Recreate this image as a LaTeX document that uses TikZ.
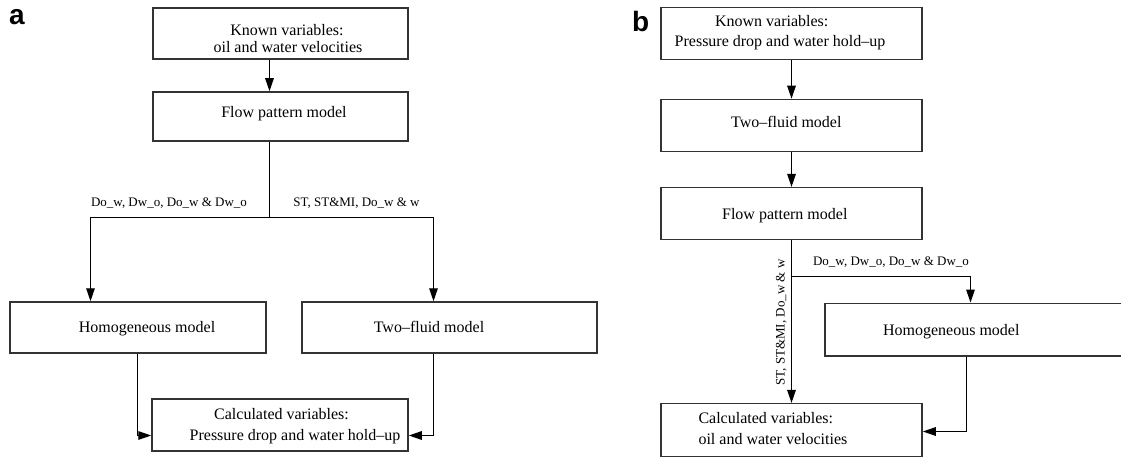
\documentclass[tikz,border=0pt]{standalone}
\usepackage{fontspec}
\setmainfont{Liberation Serif}
\newfontfamily\panelfont{Liberation Sans}
\usetikzlibrary{arrows.meta}
\tikzset{
  box/.style={draw=black!80, line width=1.5pt, inner sep=0pt, fill=none},
  txt/.style={font=\fontsize{16}{19}\selectfont, anchor=base, inner sep=0pt},
  lbl/.style={font=\fontsize{13}{15}\selectfont, anchor=base, inner sep=0pt},
  panel/.style={font=\panelfont\bfseries\fontsize{28}{30}\selectfont, anchor=base west, inner sep=0pt},
  arr/.style={line width=1.4pt, -{Triangle[length=13pt,width=8.5pt]}},
  ln/.style={line width=1.4pt}
}
\begin{document}
\begin{tikzpicture}[x=1pt,y=-1pt]
\clip (0,0) rectangle (1121,457);
% ---------- panel a ----------
\node[panel] (pa) at (9,25) {a};
\node[box, minimum width=255pt, minimum height=51pt] (ak) at (280.5,33.5) {};
\node[txt] (ak1) at (287,36) {Known variables:};
\node[txt] (ak2) at (288,52.5) {oil and water velocities};
\node[box, minimum width=255pt, minimum height=49pt] (af) at (280.5,116.5) {};
\node[txt] (aft) at (284,117.8) {Flow pattern model};
\node[box, minimum width=256pt, minimum height=51pt] (ah) at (138,327.5) {};
\node[txt] (aht) at (147,332.3) {Homogeneous model};
\node[box, minimum width=295pt, minimum height=51pt] (at) at (449.5,327.5) {};
\node[txt] (att) at (429,332.3) {Two\textendash fluid model};
\node[box, minimum width=256pt, minimum height=52pt] (ac) at (280,425) {};
\node[txt] (ac1) at (281.5,419.3) {Calculated variables:};
\node[txt] (ac2) at (295,440.8) {Pressure drop and water hold\textendash up};
\node[lbl] (al1) at (169,207) {Do\_w, Dw\_o, Do\_w \& Dw\_o};
\node[lbl] (al2) at (356.5,207) {ST, ST\&MI, Do\_w \& w};
\coordinate (ax) at (269.5,0);
\coordinate (atr) at (269.5,217.5);
\coordinate (al) at (90.5,0);
\coordinate (ar) at (433.5,0);
\coordinate (alb) at (137.5,435.5);
\coordinate (arb) at (433.5,435.5);
\draw[arr] (ak.south -| ax) -- (af.north -| ax);
\draw[ln] (af.south -| ax) -- (atr);
\draw[arr] (atr) -| (ah.north -| al);
\draw[arr] (atr) -| (at.north -| ar);
\draw[arr] (ah.south -| alb) |- (ac.west |- alb);
\draw[arr] (at.south -| arb) |- (ac.east |- arb);
% ---------- panel b ----------
\node[panel] (pb) at (632,31.5) {b};
\node[box, minimum width=261pt, minimum height=52pt] (bk) at (791.5,33.5) {};
\node[txt] (bk1) at (771.7,26.5) {Known variables:};
\node[txt] (bk2) at (780,46.5) {Pressure drop and water hold\textendash up};
\node[box, minimum width=261pt, minimum height=52pt] (bt) at (791.5,125.5) {};
\node[txt] (btt) at (786.3,128) {Two\textendash fluid model};
\node[box, minimum width=261pt, minimum height=51.6pt] (bf) at (791.5,213.5) {};
\node[txt] (bft) at (784.8,219.3) {Flow pattern model};
\node[box, minimum width=315pt, minimum height=52.7pt] (bh) at (982.5,329.7) {};
\node[txt] (bht) at (951.3,335.8) {Homogeneous model};
\node[box, minimum width=261pt, minimum height=53pt] (bc) at (791.5,430.2) {};
\node[txt, anchor=base west] (bc1) at (698.3,423.3) {Calculated variables:};
\node[txt, anchor=base west] (bc2) at (698.3,444.3) {oil and water velocities};
\node[lbl] (bl1) at (891,265.5) {Do\_w, Dw\_o, Do\_w \& Dw\_o};
\node[lbl, rotate=90] (bl2) at (784.5,322.5) {ST, ST\&MI, Do\_w \& w};
\coordinate (bx) at (791.5,0);
\coordinate (bj) at (791.5,276.5);
\coordinate (bhx) at (970.5,0);
\coordinate (bhb) at (966.5,431.5);
\draw[arr] (bk.south -| bx) -- (bt.north -| bx);
\draw[arr] (bt.south -| bx) -- (bf.north -| bx);
\draw[arr] (bf.south -| bx) -- (bc.north -| bx);
\draw[arr] (bj) -| (bh.north -| bhx);
\draw[arr] (bh.south -| bhb) |- (bc.east |- bhb);
\end{tikzpicture}
\end{document}
